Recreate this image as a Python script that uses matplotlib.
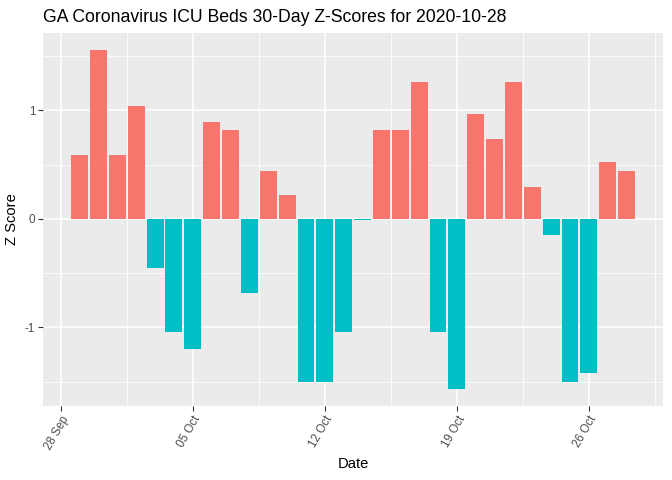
import numpy as np
import pandas as pd
import matplotlib
matplotlib.use("Agg")
import matplotlib.pyplot as plt
import matplotlib.dates as mdates

plt.rcParams['font.family'] = ['Liberation Sans', 'DejaVu Sans']

# data
dates = pd.date_range("2020-09-29", "2020-10-28", freq="D")
zscores = [0.59, 1.56, 0.59, 1.04, -0.45, -1.04, -1.20, 0.89, 0.82, -0.68,
           0.44, 0.22, -1.50, -1.50, -1.04, -0.01, 0.82, 0.82, 1.26, -1.04,
           -1.57, 0.97, 0.74, 1.26, 0.29, -0.15, -1.50, -1.42, 0.52, 0.44]
tick_dates = pd.to_datetime(["2020-09-28", "2020-10-05", "2020-10-12",
                             "2020-10-19", "2020-10-26"])
y_ticks = [-1, 0, 1]

z = np.array(zscores)
colors = np.where(z > 0, "#F8766D", "#00BFC4")

fig = plt.figure(figsize=(6.72, 4.8), dpi=100)
ax = fig.add_axes([0.064, 0.154, 0.923, 0.778])
ax.set_facecolor("#EBEBEB")

x = mdates.date2num(dates)
ax.bar(x, z, width=0.9, color=colors, zorder=3)

tx = mdates.date2num(tick_dates)
ax.set_xticks(tx)
ax.set_xticklabels([d.strftime("%d %b") for d in tick_dates],
                   rotation=60, ha="right", rotation_mode="anchor",
                   fontsize=8.4, color="#4D4D4D")
ax.set_xticks(tx + 3.5, minor=True)
ax.set_yticks(y_ticks)
ax.set_yticklabels([str(v) for v in y_ticks], fontsize=8.4, color="#4D4D4D")
ax.set_yticks([-1.5, -0.5, 0.5, 1.5], minor=True)

# ggplot style limits (5% expansion), set after ticks
xlo, xhi = x[0] - 0.45, x[-1] + 0.45
xpad = (xhi - xlo) * 0.05
ax.set_xlim(xlo - xpad, xhi + xpad)
ylo, yhi = z.min(), z.max()
ypad = (yhi - ylo) * 0.05
ax.set_ylim(ylo - ypad, yhi + ypad)

ax.grid(which="major", color="white", linewidth=1.1, zorder=0)
ax.grid(which="minor", color="white", linewidth=0.55, zorder=0)
ax.set_axisbelow(True)
ax.tick_params(which="major", length=3.5, color="#333333", width=0.8, pad=2)
ax.tick_params(which="minor", length=0)
for s in ax.spines.values():
    s.set_visible(False)

ax.set_xlabel("Date", fontsize=10.6, labelpad=4)
ax.set_ylabel("Z Score", fontsize=10.6, labelpad=4)
fig.text(0.064, 0.955, "GA Coronavirus ICU Beds 30-Day Z-Scores for 2020-10-28",
         fontsize=12.7, ha="left", va="baseline")

fig.savefig("out.png", dpi=100)
